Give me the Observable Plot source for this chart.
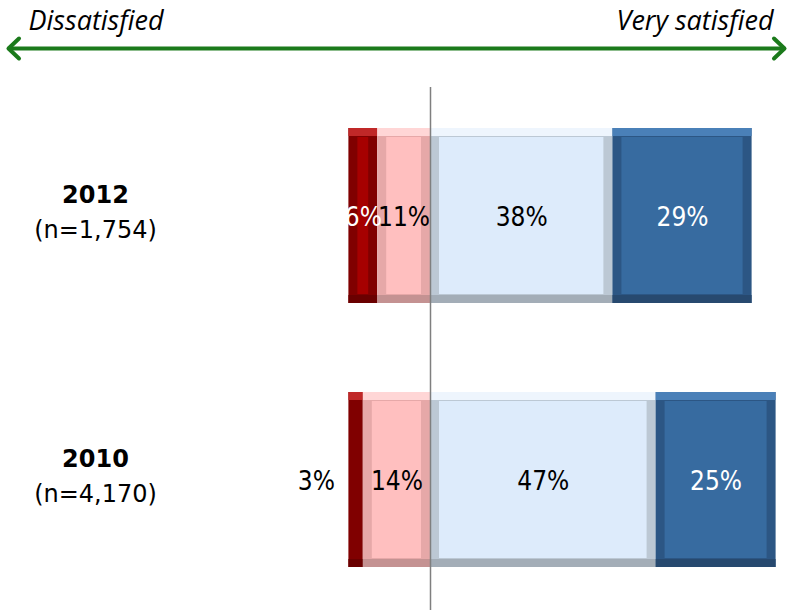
<!DOCTYPE html>
<html>
<head>
<meta charset="utf-8">
<script src="https://cdn.jsdelivr.net/npm/d3@7"></script>
<script src="https://cdn.jsdelivr.net/npm/@observablehq/plot@0.6"></script>
<style>
  html, body { margin: 0; padding: 0; background: #ffffff; }
  #chart { width: 790px; height: 610px; }
</style>
</head>
<body>
<div id="chart"></div>
<script>
// ---- Data ----
const years = ["2012", "2010"];
const sampleSizes = ["(n=1,754)", "(n=4,170)"];
const categories = ["Dissatisfied", "Somewhat dissatisfied", "Satisfied", "Very satisfied"];
const dissatisfied = [6, 3];
const somewhatDissatisfied = [11, 14];
const satisfied = [38, 47];
const verySatisfied = [29, 25];
const scaleLabels = ["Dissatisfied", "Very satisfied"];

// ---- Styles per category ----
const faceColors  = ["#a60000", "#ffbfbf", "#ddebfb", "#376ba0"];
const topColors   = ["#c02828", "#ffd6d6", "#eef5fd", "#4a80b8"];
const sideColors  = ["#800000", "#e6a8a8", "#bcc8d4", "#2c5684"];
const bottomColors= ["#6a0000", "#c49292", "#a3adb7", "#27496f"];
const labelColors = ["#ffffff", "#000000", "#000000", "#ffffff"];

// ---- Build segments (diverging stack around 0) ----
const segments = [];
years.forEach((year, i) => {
  const vals = [dissatisfied[i], somewhatDissatisfied[i], satisfied[i], verySatisfied[i]];
  const s1 = -vals[1], s0 = -vals[1] - vals[0];
  const p2 = vals[2], p3 = vals[2] + vals[3];
  const bounds = [[s0, s1], [s1, 0], [0, p2], [p2, p3]];
  vals.forEach((v, k) => {
    segments.push({
      year, category: categories[k], value: v, k,
      x1: bounds[k][0], x2: bounds[k][1],
      label: v + "%"
    });
  });
});
const insideLabels = segments.filter(d => d.value >= 5);
const outsideLabels = segments.filter(d => d.value < 5);

const pxPerPct = 4.8;
const zeroX = 430;
const bevel = 9;
const bandH = 176;

const pctFont = "'Liberation Sans Narrow', 'DejaVu Sans Condensed', 'DejaVu Sans', sans-serif";

const barLayer = (colorArr, opts) =>
  Plot.barX(segments, {x1: "x1", x2: "x2", y: "year", fill: d => colorArr[d.k], ...opts});

const plot = Plot.plot({
  width: 790,
  height: 610,
  margin: 0,
  x: {domain: [-zeroX / pxPerPct, (790 - zeroX) / pxPerPct], range: [0, 790], axis: null},
  y: {domain: years, range: [38, 657], padding: 0.336, axis: null},
  color: {type: "identity"},
  style: {background: "#ffffff", fontFamily: "'DejaVu Sans', sans-serif", overflow: "visible"},
  marks: [
    // bevelled bars: side colour, top and bottom bands, then face
    barLayer(sideColors, {}),
    barLayer(topColors, {insetBottom: bandH - bevel}),
    barLayer(bottomColors, {insetTop: bandH - bevel}),
    barLayer(faceColors, {insetTop: bevel, insetBottom: bevel, insetLeft: bevel, insetRight: bevel}),
    // centre line
    Plot.ruleX([0], {stroke: "#7f7f7f", strokeWidth: 1.5, insetTop: 87}),
    // percentage labels inside the bars
    Plot.text(insideLabels, {
      x: d => (d.x1 + d.x2) / 2,
      y: "year",
      text: "label",
      fill: d => labelColors[d.k],
      textAnchor: "middle",
      dy: 2,
      fontSize: 26,
      fontFamily: pctFont
    }),
    // small segments labelled just outside, to the left
    Plot.text(outsideLabels, {
      x: "x1",
      y: "year",
      text: "label",
      fill: "#000000",
      textAnchor: "end",
      dx: -14,
      dy: 2,
      fontSize: 26,
      fontFamily: pctFont
    }),
    // year labels
    Plot.text(years, {
      y: d => d, text: d => d, frameAnchor: "left", dx: 95, dy: -21,
      textAnchor: "middle", fontSize: 24, fontWeight: "bold", fill: "#000000"
    }),
    Plot.text(years, {
      y: d => d, text: (d, i) => sampleSizes[i], frameAnchor: "left", dx: 95, dy: 14,
      textAnchor: "middle", fontSize: 24, fill: "#000000"
    }),
    // scale end labels
    Plot.text([scaleLabels[0]], {
      frameAnchor: "top-left", dx: 28, dy: 21, lineAnchor: "middle",
      textAnchor: "start", fontSize: 27, fontStyle: "italic",
      fontFamily: "'Open Sans', sans-serif", fill: "#000000"
    }),
    Plot.text([scaleLabels[1]], {
      frameAnchor: "top-right", dx: -17, dy: 21, lineAnchor: "middle",
      textAnchor: "end", fontSize: 27, fontStyle: "italic",
      fontFamily: "'Open Sans', sans-serif", fill: "#000000"
    })
  ]
});

// double-headed green arrow across the top
const svg = d3.select(plot);
const g = svg.append("g")
  .attr("stroke", "#1b7a1b")
  .attr("stroke-width", 4)
  .attr("fill", "none")
  .attr("stroke-linecap", "round")
  .attr("stroke-linejoin", "round");
g.append("line").attr("x1", 9).attr("x2", 784).attr("y1", 48.5).attr("y2", 48.5);
g.append("path").attr("d", "M19,38.5 L8.5,48.5 L19,58.5");
g.append("path").attr("d", "M774,38.5 L784.5,48.5 L774,58.5");

document.getElementById("chart").appendChild(plot);
</script>
</body>
</html>
